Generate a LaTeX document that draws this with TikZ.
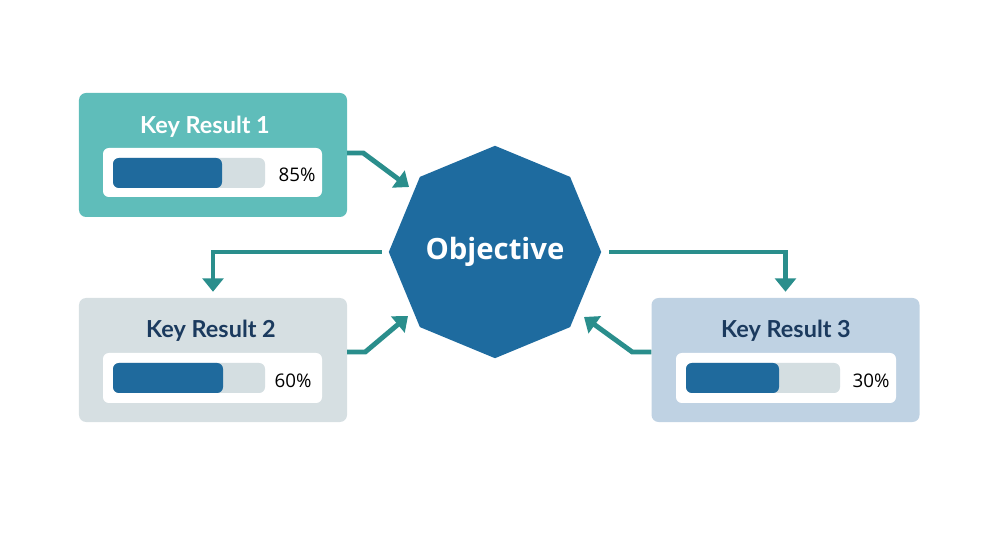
\documentclass[tikz,border=0pt]{standalone}
\usepackage{fontspec}
\setmainfont{Open Sans}
\newfontfamily\latofont{Lato}
\usetikzlibrary{shapes.geometric,arrows.meta,calc}
\definecolor{cardteal}{HTML}{5FBDBA}
\definecolor{cardgray}{HTML}{D6DFE2}
\definecolor{cardblue}{HTML}{BFD2E3}
\definecolor{barbg}{HTML}{D4DEE1}
\definecolor{barfg}{HTML}{1F6A9D}
\definecolor{objblue}{HTML}{1E6B9F}
\definecolor{arrowteal}{HTML}{2A8E8C}
\definecolor{navy}{HTML}{1B3A5E}
\begin{document}
\begin{tikzpicture}[x=0.03cm,y=-0.03cm,
  card/.style={rounded corners=6pt, minimum width=8.04cm, minimum height=3.72cm, inner sep=0, draw=none},
  panel/.style={fill=white, rounded corners=5pt},
  track/.style={fill=barbg, rounded corners=5pt},
  level/.style={fill=barfg, rounded corners=5pt},
  title/.style={font=\latofont\bfseries\fontsize{20}{24}\selectfont, inner sep=0},
  pct/.style={font=\fontsize{16}{19}\selectfont, text=black, inner sep=0},
  arr/.style={draw=arrowteal, line width=4.2pt, -{Triangle[length=0.4cm,width=0.62cm]}}
]
\useasboundingbox (0,0) rectangle (1000,545);

% cards
\node[card, fill=cardteal] (kr1) at (213,155) {};
\node[card, fill=cardgray] (kr2) at (213,360) {};
\node[card, fill=cardblue] (kr3) at (785.5,360) {};

% objective
\node[regular polygon, regular polygon sides=8, shape border rotate=22.5,
      minimum size=6.3cm, inner sep=0, fill=objblue, text=white,
      font=\bfseries\fontsize{25}{30}\selectfont] (obj) at (495,252) {Objective};

% card 1 content
\node[title, text=white] (t1) at (205,127) {Key Result 1};
\fill[panel] (103,148) rectangle (322,197);
\fill[track] (113,158) rectangle (265,188);
\fill[level] (113,158) rectangle (222,188);
\node[pct] (p1) at (297,175) {85\%};

% card 2 content
\node[title, text=navy] (t2) at (211,331) {Key Result 2};
\fill[panel] (103,353) rectangle (322,403);
\fill[track] (113,363) rectangle (265,393);
\fill[level] (113,363) rectangle (223,393);
\node[pct] (p2) at (293,381) {60\%};

% card 3 content
\node[title, text=navy] (t3) at (786,331) {Key Result 3};
\fill[panel] (676,353) rectangle (896,403);
\fill[track] (686,363) rectangle (840,393);
\fill[level] (686,363) rectangle (779,393);
\node[pct] (p3) at (871,381) {30\%};

% connector end points
\coordinate (e1) at (409,187);
\coordinate (e3) at (408,316);
\coordinate (e5) at (584,317);

% connectors
\draw[arr] ($(kr1.east)+(0,-2)$) -- ++(16,0) -- (e1);
\draw[arr, shorten <=0.21cm, shorten >=0.18cm] (obj.west) -| (kr2.north);
\draw[arr] ($(kr2.east)+(0,-8)$) -- ++(18,0) -- (e3);
\draw[arr, shorten <=0.24cm, shorten >=0.18cm] (obj.east) -| (kr3.north);
\draw[arr] ($(kr3.west)+(0,-8)$) -- ++(-19,0) -- (e5);
\end{tikzpicture}
\end{document}
